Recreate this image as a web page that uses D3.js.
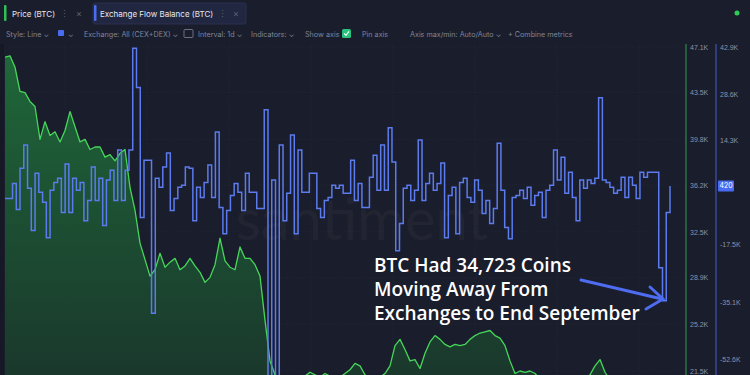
<!DOCTYPE html>
<html>
<head>
<meta charset="utf-8">
<script src="https://cdn.jsdelivr.net/npm/d3@7"></script>
<style>
	html, body { margin: 0; padding: 0; background: #1a1d2b; }
	svg { display: block; font-family: Inter, "Noto Sans", sans-serif; }
	.ui { fill: #7f869c; font-size: 7.2px; }
	.tick-label { fill: #8d93a8; font-size: 7px; }
	.note { fill: #ffffff; font-family: "Open Sans", sans-serif; font-weight: 600; font-size: 19px; }
</style>
</head>
<body>
<script>
// Exchange flow balance (BTC, thousands), one value per day
const flowValues = [
	-3.4, -3.4, 1.2, -6.8, 5.8, 12.9, -0.3, -13.2, 4.3, -1.5,
	-4.6, -15.4, -0.9, 1.5, 2.8, -7.7, 7.1, -7.7, 2.8, -0.9,
	1.5, -10.2, -4.0, 6.2, -4.0, 2.8, -11.7, 2.2, 5.2, -4.0,
	11.4, -4.0, 5.2, 11.4, 42.5, 30.5, -9.2, 8.3, 8.3, -38.5,
	2.8, 0.0, 6.2, 10.5, -7.1, -3.4, 0.0, 0.6, 6.2, 5.8,
	-10.2, 0.0, -3.1, 1.5, 6.8, -3.1, 16.9, -6.2, -14.2, -7.1,
	-2.5, 1.2, -1.5, -7.1, 4.3, -1.5, -1.5, -6.5, -6.5, 23.7,
	-70, 2.2, -70, 12.9, -10.2, -1.8, 16.0, -14.2, 11.4, -1.5,
	-1.5, 4.3, 4.3, -6.5, -9.2, -4.0, -3.1, 0.6, -0.3, 0.6,
	-1.8, -1.8, 8.3, -4.0, 1.2, -6.2, -6.2, 3.1, 9.8, -0.9,
	12.9, -0.9, 18.2, 7.7, -19.4, -11.1, -0.3, 0.6, -4.0, -0.9,
	14.5, -4.0, 1.2, 4.3, -0.9, 1.2, 7.4, -15.4, -2.5, 0.0,
	-14.2, 1.5, 2.8, -3.1, -4.6, 2.2, -0.9, -8.0, -4.0, -11.1,
	-6.5, 13.5, -0.9, -12.3, -15.7, -3.1, -2.5, -0.9, -3.4, 0.0,
	-5.5, -2.5, -1.5, -9.2, -0.9, 0.6, 11.4, 2.2, 9.2, -1.8,
	4.6, -3.1, -10.2, 2.2, -0.3, 2.2, 1.2, 2.8, 27.4, 2.2,
	1.5, 0.0, -1.8, -0.9, 3.1, -3.1, 3.1, 0.6, -3.4, 4.6,
	3.1, 4.6, 4.6, 4.6, -24.6, -34.7, -7.7, 0.42
];

// BTC price (USD, thousands)
const priceValues = [
	46.3, 46.4, 45.5, 43.6, 43.5, 42.8, 42.4, 39.8, 41.2, 40.1,
	40.4, 39.6, 40.5, 42.0, 40.8, 39.6, 39.8, 39.0, 39.2, 39.2,
	38.4, 38.6, 38.1, 38.7, 39.0, 36.0, 34.2, 31.6, 30.3, 29.0,
	29.5, 30.8, 29.7, 30.1, 30.4, 29.5, 29.8, 30.4, 29.8, 29.3,
	28.5, 28.9, 29.9, 32.0, 30.2, 29.7, 29.5, 31.3, 30.4, 30.4,
	29.9, 29.0, 25.5, 22.3, 21.2, 20.9, 20.8, 20.9, 21.0, 20.9,
	21.1, 21.4, 21.2, 21.0, 21.3, 21.1, 20.9, 21.0, 21.3, 21.6,
	22.1, 21.9, 21.2, 20.9, 20.8, 21.0, 21.3, 21.9, 23.5, 24.0,
	23.2, 22.3, 22.4, 21.7, 22.9, 23.8, 24.3, 24.0, 23.6, 23.4,
	23.6, 23.5, 23.6, 24.0, 24.3, 24.5, 24.6, 24.7, 24.3, 24.1,
	23.5, 22.3, 21.3, 21.5, 21.4, 21.5, 21.3, 20.9, 20.7, 20.6,
	20.7, 20.6, 20.5, 20.7, 20.6, 20.8, 20.9, 21.2, 21.9, 22.4,
	21.4, 20.8, 20.6, 20.5, 20.6, 20.5, 20.4, 20.5, 20.6, 20.5,
	20.4, 20.5, 20.4, 20.4
];

const priceTicks = [47.1, 43.5, 39.8, 36.2, 32.5, 28.9, 25.2, 21.5];
const flowTicks = [42.9, 28.6, 14.3, -17.5, -35.1, -52.6];
const flowLatest = "420";
const noteLines = ["BTC Had 34,723 Coins", "Moving Away From", "Exchanges to End September"];
const toolbarItems = [
	["Style: Line  ⌄", 6], ["⌄", 68], ["Exchange: All (CEX+DEX)  ⌄", 84], ["Interval: 1d  ⌄", 198],
	["Indicators:  ⌄", 251], ["Show axis", 305], ["Pin axis", 362],
	["Axis max/min: Auto/Auto  ⌄", 410], ["+   Combine metrics", 508]
];

const width = 750, height = 375;
const plot = { left: 5, right: 670, top: 44, bottom: 375, edge: 683 };

const svg = d3.select("body").append("svg")
	.attr("width", width)
	.attr("height", height);

svg.append("rect").attr("width", width).attr("height", height).attr("fill", "#1a1d2b");
svg.append("rect").attr("x", 0).attr("y", plot.top).attr("width", 4).attr("height", height - plot.top).attr("fill", "#161925");

const defs = svg.append("defs");
const grad = defs.append("linearGradient").attr("id", "priceFill")
	.attr("x1", 0).attr("y1", 0).attr("x2", 0).attr("y2", 1);
grad.append("stop").attr("offset", "0%").attr("stop-color", "#1f6b3a").attr("stop-opacity", 0.95);
grad.append("stop").attr("offset", "100%").attr("stop-color", "#1a3a2c").attr("stop-opacity", 0.9);
defs.append("clipPath").attr("id", "plotClip")
	.append("rect")
	.attr("x", plot.left).attr("y", plot.top)
	.attr("width", plot.edge - plot.left).attr("height", plot.bottom - plot.top);

// scales
const xPrice = d3.scaleLinear().domain([0, priceValues.length - 1]).range([plot.left, plot.right]);
const xFlow = d3.scaleLinear().domain([0, flowValues.length - 1]).range([plot.left, plot.right]);
const yPrice = d3.scaleLinear().domain([21.5, 47.1]).range([371, 47]);
const yFlow = d3.scaleLinear().domain([0, 42.9]).range([187.3, 47]);

// faint grid
const grid = svg.append("g").attr("stroke", "#262b3d").attr("stroke-width", 0.6).attr("stroke-dasharray", "1,2");
grid.selectAll("line.h").data(priceTicks).enter().append("line")
	.attr("x1", plot.left).attr("x2", plot.edge)
	.attr("y1", d => yPrice(d)).attr("y2", d => yPrice(d));
grid.selectAll("line.v").data(d3.range(8)).enter().append("line")
	.attr("x1", d => 65 + d * 82).attr("x2", d => 65 + d * 82)
	.attr("y1", plot.top).attr("y2", plot.bottom);

// watermark
svg.append("text")
	.attr("x", 362).attr("y", 240)
	.attr("text-anchor", "middle")
	.attr("fill", "#ffffff").attr("fill-opacity", 0.035)
	.attr("font-family", "Lato, sans-serif").attr("font-size", 58)
	.text("santiment");

const chart = svg.append("g").attr("clip-path", "url(#plotClip)");

// price area + line
const priceArea = d3.area()
	.x((d, i) => xPrice(i))
	.y0(plot.bottom + 5)
	.y1(d => yPrice(d));
chart.append("path").datum(priceValues)
	.attr("d", priceArea)
	.attr("fill", "url(#priceFill)");
chart.append("path").datum(priceValues)
	.attr("d", d3.line().x((d, i) => xPrice(i)).y(d => yPrice(d)))
	.attr("fill", "none")
	.attr("stroke", "#46d65a")
	.attr("stroke-width", 1.3)
	.attr("stroke-linejoin", "round");

// flow step line
const flowLine = d3.line()
	.x((d, i) => xFlow(i))
	.y(d => yFlow(d))
	.curve(d3.curveStepAfter);
chart.append("path").datum(flowValues)
	.attr("d", flowLine)
	.attr("fill", "none")
	.attr("stroke", "#5b7bee")
	.attr("stroke-width", 1.5);

// right axes
svg.append("line").attr("x1", 686).attr("x2", 686).attr("y1", plot.top).attr("y2", height)
	.attr("stroke", "#2f8a4a").attr("stroke-width", 1.2);
svg.append("line").attr("x1", 716).attr("x2", 716).attr("y1", plot.top).attr("y2", height)
	.attr("stroke", "#3f55b8").attr("stroke-width", 1.2);

const priceAxis = d3.axisRight(yPrice)
	.tickValues(priceTicks)
	.tickSize(0)
	.tickPadding(4)
	.tickFormat(d => d.toFixed(1) + "K");
const pAxis = svg.append("g").attr("transform", "translate(686,0)").call(priceAxis);
pAxis.select(".domain").remove();
pAxis.selectAll("text").attr("class", "tick-label").attr("fill", null);

const flowAxis = d3.axisRight(yFlow)
	.tickValues(flowTicks)
	.tickSize(0)
	.tickPadding(4)
	.tickFormat(d => d.toFixed(1) + "K");
const fAxis = svg.append("g").attr("transform", "translate(716,0)").call(flowAxis);
fAxis.select(".domain").remove();
fAxis.selectAll("text").attr("class", "tick-label").attr("fill", null);

// latest flow value badge
const badgeY = yFlow(0.42);
svg.append("rect").attr("x", 718).attr("y", badgeY - 5.5).attr("width", 16).attr("height", 11)
	.attr("rx", 1).attr("fill", "#4a6cf0");
svg.append("text").attr("x", 726).attr("y", badgeY + 2.5).attr("text-anchor", "middle")
	.attr("fill", "#ffffff").attr("font-size", 7).text(flowLatest);

// annotation
svg.selectAll("text.note").data(noteLines).enter().append("text")
	.attr("class", "note")
	.attr("x", 374)
	.attr("y", (d, i) => 272 + i * 24)
	.text(d => d);
const arrow = svg.append("g").attr("stroke", "#4d6cf0").attr("stroke-width", 3)
	.attr("stroke-linecap", "round").attr("fill", "none");
arrow.append("line").attr("x1", 581).attr("y1", 280).attr("x2", 662).attr("y2", 299);
arrow.append("polyline").attr("points", "650,287 663,299 646,309");

// header tabs
svg.append("rect").attr("x", 93).attr("y", 3).attr("width", 153).attr("height", 21)
	.attr("rx", 2).attr("fill", "#212641").attr("stroke", "#2a3050");
svg.append("rect").attr("x", 4).attr("y", 5).attr("width", 2.5).attr("height", 16).attr("fill", "#2fbf55").attr("rx", 1);
svg.append("rect").attr("x", 94).attr("y", 5).attr("width", 2.5).attr("height", 16).attr("fill", "#4a6cf0").attr("rx", 1);
const tabText = [["Price (BTC)", 12], ["Exchange Flow Balance (BTC)", 100]];
svg.selectAll("text.tab").data(tabText).enter().append("text")
	.attr("x", d => d[1]).attr("y", 16.5)
	.attr("fill", "#e6e8ef").attr("font-size", 8)
	.text(d => d[0]);
[[64, "⋮"], [79, "×"], [222, "⋮"], [236, "×"]].forEach(([x, s]) => {
	svg.append("text").attr("x", x).attr("y", 16.5).attr("fill", "#5d6379")
		.attr("font-size", 9).attr("text-anchor", "middle").text(s);
});
svg.append("circle").attr("cx", 737).attr("cy", 13).attr("r", 2.5).attr("fill", "#2ecc55");

// toolbar
svg.selectAll("text.ui").data(toolbarItems).enter().append("text")
	.attr("class", "ui")
	.attr("x", d => d[1]).attr("y", 37)
	.text(d => d[0]);
svg.append("rect").attr("x", 58).attr("y", 30).attr("width", 6).attr("height", 6).attr("rx", 1).attr("fill", "#4a6cf0");
svg.append("rect").attr("x", 184).attr("y", 29.5).attr("width", 9).attr("height", 8).attr("rx", 1)
	.attr("fill", "none").attr("stroke", "#7f869c").attr("stroke-width", 0.8);
svg.append("rect").attr("x", 342).attr("y", 29).attr("width", 9).attr("height", 9).attr("rx", 1.5).attr("fill", "#27c27c");
svg.append("polyline").attr("points", "344.2,33.5 346,35.3 349,31.3")
	.attr("fill", "none").attr("stroke", "#ffffff").attr("stroke-width", 1.1);
</script>
</body>
</html>
